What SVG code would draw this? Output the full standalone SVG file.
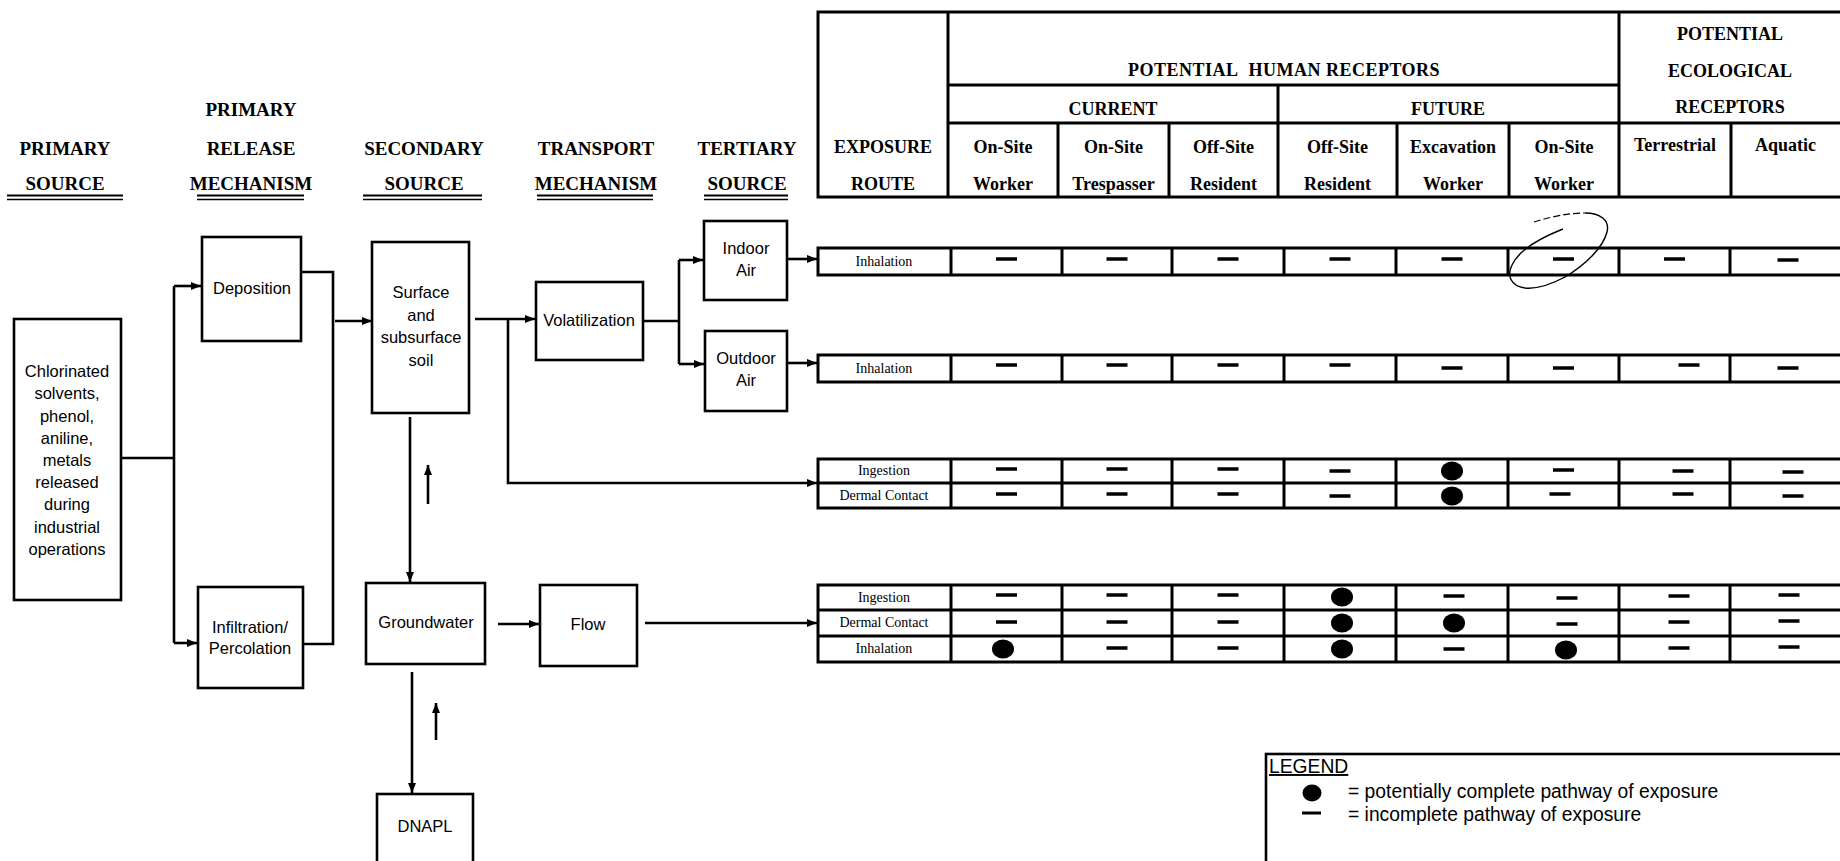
<svg xmlns="http://www.w3.org/2000/svg" width="1840" height="861" viewBox="0 0 1840 861">
<defs>
<marker id="arr" viewBox="0 0 10 8" refX="10" refY="4" markerWidth="10" markerHeight="8" markerUnits="userSpaceOnUse" orient="auto">
<path d="M0,0 L10,4 L0,8 Z" fill="#000"/>
</marker>
<path id="d" d="M-10.5,0 H10.5" stroke="#000" stroke-width="3.5"/>
<ellipse id="o" rx="11" ry="9.5" fill="#000"/>
</defs>
<style>
.box{fill:#fff;stroke:#000;stroke-width:2.6}
.ln{fill:none;stroke:#000;stroke-width:2.6}
.tl{fill:none;stroke:#000;stroke-width:3}
.cell{fill:#fff;stroke:#000;stroke-width:3}
.hd{font-family:"Liberation Serif","Times New Roman",serif;font-weight:bold;font-size:19px;text-anchor:middle;fill:#000}
.th{font-family:"Liberation Serif","Times New Roman",serif;font-weight:bold;font-size:18px;text-anchor:middle;fill:#000}
.rl{font-family:"Liberation Serif","Times New Roman",serif;font-size:14px;text-anchor:middle;fill:#000}
.bx{font-family:"Liberation Sans",Arial,sans-serif;font-size:16.5px;text-anchor:middle;fill:#000}
.lg{font-family:"Liberation Sans",Arial,sans-serif;font-size:19.3px;fill:#000}
.u1{stroke:#000;stroke-width:2.2}
.u2{stroke:#000;stroke-width:1.4}
</style>
<rect width="1840" height="861" fill="#fff"/>

<g id="column-headers">
<text class="hd" x="65" y="155">PRIMARY</text>
<text class="hd" x="65" y="190">SOURCE</text>
<line class="u1" x1="7" y1="195.5" x2="123" y2="195.5"/><line class="u2" x1="7" y1="199.5" x2="123" y2="199.5"/>
<text class="hd" x="251" y="116">PRIMARY</text>
<text class="hd" x="251" y="155">RELEASE</text>
<text class="hd" x="251" y="190">MECHANISM</text>
<line class="u1" x1="197" y1="195.5" x2="304" y2="195.5"/><line class="u2" x1="197" y1="199.5" x2="304" y2="199.5"/>
<text class="hd" x="424" y="155">SECONDARY</text>
<text class="hd" x="424" y="190">SOURCE</text>
<line class="u1" x1="363" y1="195.5" x2="482" y2="195.5"/><line class="u2" x1="363" y1="199.5" x2="482" y2="199.5"/>
<text class="hd" x="596" y="155">TRANSPORT</text>
<text class="hd" x="596" y="190">MECHANISM</text>
<line class="u1" x1="537" y1="195.5" x2="653" y2="195.5"/><line class="u2" x1="537" y1="199.5" x2="653" y2="199.5"/>
<text class="hd" x="747" y="155">TERTIARY</text>
<text class="hd" x="747" y="190">SOURCE</text>
<line class="u1" x1="704" y1="195.5" x2="788" y2="195.5"/><line class="u2" x1="704" y1="199.5" x2="788" y2="199.5"/>
</g>

<g id="receptor-table-header">
<rect class="cell" x="818" y="12" width="1024" height="185"/>
<path class="tl" d="M948,12V197M1619,12V197M948,85H1619M948,123H1842M1278,85V197M1058,123V197M1169,123V197M1397,123V197M1509,123V197M1731,123V197"/>
<text class="th" x="883" y="153">EXPOSURE</text>
<text class="th" x="883" y="190">ROUTE</text>
<text class="th" x="1284" y="76" letter-spacing="0.5">POTENTIAL&#160; HUMAN RECEPTORS</text>
<text class="th" x="1113" y="115">CURRENT</text>
<text class="th" x="1448" y="115">FUTURE</text>
<text class="th" x="1730" y="40">POTENTIAL</text>
<text class="th" x="1730" y="77">ECOLOGICAL</text>
<text class="th" x="1730" y="113">RECEPTORS</text>
<text class="th" x="1003" y="153">On-Site</text><text class="th" x="1003" y="190">Worker</text>
<text class="th" x="1113.5" y="153">On-Site</text><text class="th" x="1113.5" y="190">Trespasser</text>
<text class="th" x="1223.5" y="153">Off-Site</text><text class="th" x="1223.5" y="190">Resident</text>
<text class="th" x="1337.5" y="153">Off-Site</text><text class="th" x="1337.5" y="190">Resident</text>
<text class="th" x="1453" y="153">Excavation</text><text class="th" x="1453" y="190">Worker</text>
<text class="th" x="1564" y="153">On-Site</text><text class="th" x="1564" y="190">Worker</text>
<text class="th" x="1675" y="151">Terrestrial</text>
<text class="th" x="1785.5" y="151">Aquatic</text>
</g>

<g id="connectors">
<path class="ln" d="M121,458H174M174,286V643M301,272H333V644H303"/>
<path class="ln" d="M174,286H201" marker-end="url(#arr)"/>
<path class="ln" d="M174,643H197" marker-end="url(#arr)"/>
<path class="ln" d="M335,321H372" marker-end="url(#arr)"/>
<path class="ln" d="M475,319H535" marker-end="url(#arr)"/>
<path class="ln" d="M508,319V483H817" marker-end="url(#arr)"/>
<path class="ln" d="M643,321H679M679,260V364"/>
<path class="ln" d="M679,260H703" marker-end="url(#arr)"/>
<path class="ln" d="M679,364H704" marker-end="url(#arr)"/>
<path class="ln" d="M787,259H817" marker-end="url(#arr)"/>
<path class="ln" d="M787,363H817" marker-end="url(#arr)"/>
<path class="ln" d="M410,417V582" marker-end="url(#arr)"/>
<path class="ln" d="M428,504V465" marker-end="url(#arr)"/>
<path class="ln" d="M498,624H539" marker-end="url(#arr)"/>
<path class="ln" d="M645,623H817" marker-end="url(#arr)"/>
<path class="ln" d="M412,672V793" marker-end="url(#arr)"/>
<path class="ln" d="M436,740V703" marker-end="url(#arr)"/>
</g>

<g id="primary-source">
<rect class="box" x="14" y="319" width="107" height="281"/>
<text class="bx" x="67" y="377">Chlorinated</text>
<text class="bx" x="67" y="399">solvents,</text>
<text class="bx" x="67" y="422">phenol,</text>
<text class="bx" x="67" y="444">aniline,</text>
<text class="bx" x="67" y="466">metals</text>
<text class="bx" x="67" y="488">released</text>
<text class="bx" x="67" y="510">during</text>
<text class="bx" x="67" y="533">industrial</text>
<text class="bx" x="67" y="555">operations</text>
</g>

<g id="deposition">
<rect class="box" x="202" y="237" width="99" height="104"/>
<text class="bx" x="252" y="294">Deposition</text>
</g>

<g id="infiltration">
<rect class="box" x="198" y="587" width="105" height="101"/>
<text class="bx" x="250" y="633">Infiltration/</text>
<text class="bx" x="250" y="654">Percolation</text>
</g>

<g id="surface-soil">
<rect class="box" x="372" y="242" width="97" height="171"/>
<text class="bx" x="421" y="298">Surface</text>
<text class="bx" x="421" y="321">and</text>
<text class="bx" x="421" y="343">subsurface</text>
<text class="bx" x="421" y="366">soil</text>
</g>

<g id="groundwater">
<rect class="box" x="366" y="583" width="119" height="81"/>
<text class="bx" x="426" y="628">Groundwater</text>
</g>

<g id="dnapl">
<rect class="box" x="377" y="794" width="96" height="70"/>
<text class="bx" x="425" y="832">DNAPL</text>
</g>

<g id="volatilization">
<rect class="box" x="536" y="282" width="107" height="78"/>
<text class="bx" x="589" y="326">Volatilization</text>
</g>

<g id="flow">
<rect class="box" x="540" y="585" width="97" height="81"/>
<text class="bx" x="588" y="630">Flow</text>
</g>

<g id="indoor-air">
<rect class="box" x="704" y="221" width="83" height="79"/>
<text class="bx" x="746" y="254">Indoor</text>
<text class="bx" x="746" y="276">Air</text>
</g>

<g id="outdoor-air">
<rect class="box" x="705" y="331" width="82" height="80"/>
<text class="bx" x="746" y="364">Outdoor</text>
<text class="bx" x="746" y="386">Air</text>
</g>

<g id="row-indoor-inhalation">
<rect class="cell" x="818" y="248" width="1024" height="27"/>
<path class="tl" d="M951,248V275M1062,248V275M1172,248V275M1284,248V275M1396,248V275M1508,248V275M1619,248V275M1730,248V275"/>
<text class="rl" x="884" y="266">Inhalation</text>
<use href="#d" x="1006.5" y="259"/><use href="#d" x="1117" y="259"/><use href="#d" x="1228" y="259"/><use href="#d" x="1340" y="259"/><use href="#d" x="1452" y="259"/><use href="#d" x="1563.5" y="259"/><use href="#d" x="1674.5" y="259"/><use href="#d" x="1788" y="260"/>
<path d="M1534,222 C1550,217 1568,213 1585,213" fill="none" stroke="#000" stroke-width="1.2" stroke-dasharray="7,3"/>
<path d="M1585,213 C1600,213 1610,220 1607,232 C1603,248 1585,265 1565,277 C1550,285 1535,289 1525,288 C1510,286 1507,275 1512,265 C1518,252 1535,240 1563,229" fill="none" stroke="#000" stroke-width="1.4"/>
</g>

<g id="row-outdoor-inhalation">
<rect class="cell" x="818" y="355" width="1024" height="27"/>
<path class="tl" d="M951,355V382M1062,355V382M1172,355V382M1284,355V382M1396,355V382M1508,355V382M1619,355V382M1730,355V382"/>
<text class="rl" x="884" y="373">Inhalation</text>
<use href="#d" x="1006.5" y="365"/><use href="#d" x="1117" y="365"/><use href="#d" x="1228" y="365"/><use href="#d" x="1340" y="365"/><use href="#d" x="1452" y="368"/><use href="#d" x="1563.5" y="368"/><use href="#d" x="1689" y="365"/><use href="#d" x="1788" y="368"/>
</g>

<g id="rows-soil-contact">
<rect class="cell" x="818" y="459" width="1024" height="49"/>
<path class="tl" d="M818,483H1842M951,459V508M1062,459V508M1172,459V508M1284,459V508M1396,459V508M1508,459V508M1619,459V508M1730,459V508"/>
<text class="rl" x="884" y="475">Ingestion</text>
<text class="rl" x="884" y="500">Dermal Contact</text>
<use href="#d" x="1006.5" y="469"/><use href="#d" x="1117" y="469"/><use href="#d" x="1228" y="469"/><use href="#d" x="1340" y="471"/><use href="#o" x="1452" y="471"/><use href="#d" x="1563.5" y="470"/><use href="#d" x="1683" y="471"/><use href="#d" x="1793" y="472"/>
<use href="#d" x="1006.5" y="494"/><use href="#d" x="1117" y="494"/><use href="#d" x="1228" y="494"/><use href="#d" x="1340" y="496"/><use href="#o" x="1452" y="496"/><use href="#d" x="1560" y="494"/><use href="#d" x="1683" y="494"/><use href="#d" x="1793" y="496"/>
</g>

<g id="rows-groundwater">
<rect class="cell" x="818" y="585" width="1024" height="77"/>
<path class="tl" d="M818,610H1842M818,636H1842M951,585V662M1062,585V662M1172,585V662M1284,585V662M1396,585V662M1508,585V662M1619,585V662M1730,585V662"/>
<text class="rl" x="884" y="602">Ingestion</text>
<text class="rl" x="884" y="627">Dermal Contact</text>
<text class="rl" x="884" y="653">Inhalation</text>
<use href="#d" x="1006.5" y="595"/><use href="#d" x="1117" y="595"/><use href="#d" x="1228" y="595"/><use href="#o" x="1342" y="597"/><use href="#d" x="1454" y="596"/><use href="#d" x="1567" y="598"/><use href="#d" x="1679" y="596"/><use href="#d" x="1789" y="595"/>
<use href="#d" x="1006.5" y="622"/><use href="#d" x="1117" y="622"/><use href="#d" x="1228" y="622"/><use href="#o" x="1342" y="623"/><use href="#o" x="1454" y="623"/><use href="#d" x="1567" y="624"/><use href="#d" x="1679" y="622"/><use href="#d" x="1789" y="621"/>
<use href="#o" x="1003" y="649"/><use href="#d" x="1117" y="648"/><use href="#d" x="1228" y="648"/><use href="#o" x="1342" y="649"/><use href="#d" x="1454" y="649"/><use href="#o" x="1566" y="650"/><use href="#d" x="1679" y="648"/><use href="#d" x="1789" y="647"/>
</g>

<g id="legend">
<rect class="box" x="1266" y="754" width="580" height="112"/>
<text class="lg" x="1269" y="773" font-size="16.5" text-decoration="underline">LEGEND</text>
<ellipse cx="1312" cy="793" rx="9.5" ry="8.5" fill="#000"/>
<text class="lg" x="1348" y="798">= potentially complete pathway of exposure</text>
<line x1="1302" y1="813" x2="1321" y2="813" stroke="#000" stroke-width="3"/>
<text class="lg" x="1348" y="821">= incomplete pathway of exposure</text>
</g>
</svg>
